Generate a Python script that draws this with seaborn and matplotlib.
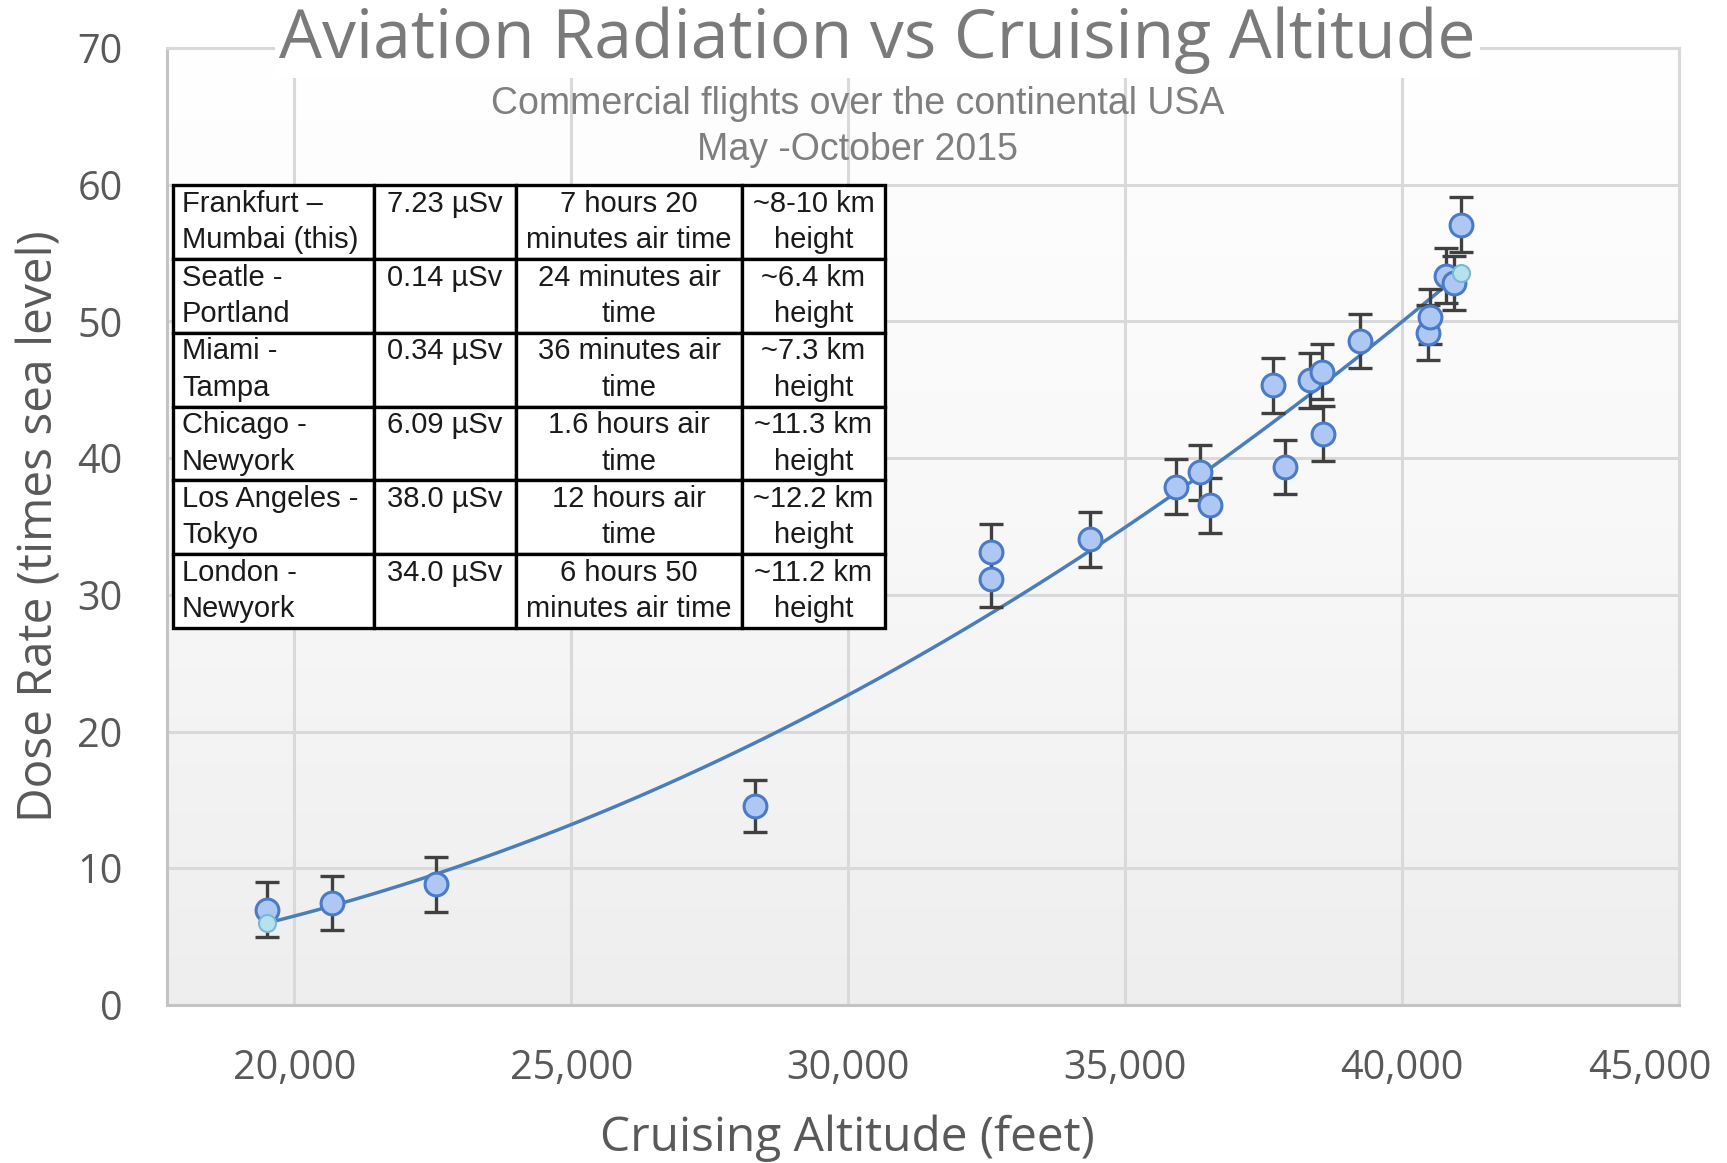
import numpy as np
import pandas as pd
import matplotlib
matplotlib.use("Agg")
import matplotlib.pyplot as plt
import matplotlib.transforms as mtransforms
from matplotlib.colors import LinearSegmentedColormap
from matplotlib.ticker import FuncFormatter
import seaborn as sns

# ---------------- data ----------------
altitude_ft = [19513, 20686, 22556, 28324, 32580, 32580, 34371, 35922, 36360, 36539,
               37672, 37891, 38329, 38547, 38567, 39243, 40476, 40496, 40794, 40934, 41073]
dose_rate = [6.97, 7.45, 8.82, 14.54, 33.16, 31.14, 34.05, 37.91, 38.96, 36.54,
             45.33, 39.36, 45.68, 46.33, 41.78, 48.58, 49.19, 50.36, 53.34, 52.82, 57.07]
dose_err = [2.0, 2.0, 2.0, 1.9, 2.0, 2.0, 2.0, 2.0, 2.0, 2.0,
            2.0, 2.0, 2.0, 2.0, 2.0, 2.0, 2.0, 2.0, 2.0, 2.0, 2.0]

x_ticks = [20000, 25000, 30000, 35000, 40000, 45000]
y_ticks = [0, 10, 20, 30, 40, 50, 60, 70]

title = "Aviation Radiation vs Cruising Altitude"
subtitle_lines = ["Commercial flights over the continental USA", "May -October 2015"]
x_label = "Cruising Altitude (feet)"
y_label = "Dose Rate (times sea level)"

routes = ["Frankfurt –\nMumbai (this)", "Seatle -\nPortland", "Miami -\nTampa",
          "Chicago -\nNewyork", "Los Angeles -\nTokyo", "London -\nNewyork"]
route_doses = ["7.23 µSv", "0.14 µSv", "0.34 µSv", "6.09 µSv", "38.0 µSv", "34.0 µSv"]
air_times = ["7 hours 20\nminutes air time", "24 minutes air\ntime", "36 minutes air\ntime",
             "1.6 hours air\ntime", "12 hours air\ntime", "6 hours 50\nminutes air time"]
heights = ["~8-10 km\nheight", "~6.4 km\nheight", "~7.3 km\nheight",
           "~11.3 km\nheight", "~12.2 km\nheight", "~11.2 km\nheight"]

df = pd.DataFrame({"alt": altitude_ft, "dose": dose_rate, "err": dose_err})

# ---------------- style ----------------
sns.set_style("white")
plt.rcParams["font.family"] = ["Open Sans", "DejaVu Sans"]

TICK_C = "#595959"
GRID_C = "#d9d9d9"

fig = plt.figure(figsize=(17.27, 11.63), dpi=100)
fig.patch.set_facecolor("white")
ax = fig.add_axes([0.0967, 0.1359, 0.8755, 0.8228])

XMIN, XMAX = 17700, 45000
ax.set_xlim(XMIN, XMAX)
ax.set_ylim(0, 70)

# plot-area gradient background
grad = np.linspace(0, 1, 256).reshape(-1, 1)
cmap = LinearSegmentedColormap.from_list("bg", ["#eeeeee", "#f8f8f8", "#ffffff"])
ax.imshow(grad, extent=[XMIN, XMAX, 0, 70], origin="lower", aspect="auto",
          cmap=cmap, zorder=0, interpolation="bilinear")

ax.set_axisbelow(True)
ax.grid(True, color=GRID_C, linewidth=2.2, zorder=0.5)

for side in ["left", "bottom"]:
    ax.spines[side].set_color("#c4c4c4")
    ax.spines[side].set_linewidth(2.2)
for side in ["top", "right"]:
    ax.spines[side].set_color(GRID_C)
    ax.spines[side].set_linewidth(2.2)

# quadratic trendline via seaborn
sns.regplot(data=df, x="alt", y="dose", order=2, ci=None, scatter=False, truncate=True,
            color="#4a7ebb", line_kws={"linewidth": 2.5, "zorder": 2}, ax=ax)

# trend end markers (fitted values at the data extremes)
coef = np.polyfit(df["alt"], df["dose"], 2)
ends_x = np.array([df["alt"].min(), df["alt"].max()])
ends_y = np.polyval(coef, ends_x)

# error bars
ax.errorbar(df["alt"], df["dose"], yerr=df["err"], fmt="none", ecolor="#404040",
            elinewidth=2.4, capsize=8.5, capthick=2.4, zorder=3)

sns.scatterplot(data=df, x="alt", y="dose", s=270, color="#aec7f3",
                edgecolor="#4a7bc8", linewidth=2.2, zorder=4, ax=ax, legend=False)
ax.scatter(ends_x, ends_y, s=150, color="#b6e2ee", edgecolor="#78b9d3",
           linewidth=1.5, zorder=5)

# ticks
ax.set_xticks(x_ticks)
ax.set_yticks(y_ticks)
ax.xaxis.set_major_formatter(FuncFormatter(lambda v, p: f"{int(v):,}"))
ax.tick_params(axis="x", length=0, pad=31, labelsize=28.5, labelcolor=TICK_C)
ax.tick_params(axis="y", length=0, pad=32, labelsize=28.5, labelcolor=TICK_C)
last = ax.get_xticklabels()[-1]
last.set_horizontalalignment("right")
last.set_transform(last.get_transform() +
                   mtransforms.ScaledTranslation(0.33, 0, fig.dpi_scale_trans))

# axis labels
ax.set_xlabel(x_label, fontsize=34.5, color=TICK_C)
ax.set_ylabel(y_label, fontsize=34.5, color=TICK_C)
ax.xaxis.set_label_coords(0.450, -0.1395)
ax.xaxis.label.set_verticalalignment("center")
ax.yaxis.set_label_coords(-0.0842, 0.5005)
ax.yaxis.label.set_verticalalignment("center")

# title breaking the top border
ax.text(0.470, 1.0085, title, transform=ax.transAxes, ha="center", va="center",
        fontsize=49, color="#7a7a7a", zorder=10, clip_on=False,
        bbox=dict(facecolor="white", edgecolor="none", pad=3))
sub_y = [0.9411, 0.8935]
for line, yy in zip(subtitle_lines, sub_y):
    ax.text(0.457, yy, line, transform=ax.transAxes, ha="center", va="center",
            fontsize=27, color="#7f7f7f", family=["Liberation Sans", "DejaVu Sans"],
            zorder=6)

# data table
cell_text = [[r, d + "\n", t, h] for r, d, t, h in zip(routes, route_doses, air_times, heights)]
tbl = ax.table(cellText=cell_text, colWidths=[0.282, 0.2, 0.317, 0.201],
               bbox=[0.004, 0.3939, 0.4709, 0.4629], cellLoc="center", zorder=8)
tbl.auto_set_font_size(False)
tbl.set_fontsize(21)
for (r, c), cell in tbl.get_celld().items():
    cell.set_edgecolor("black")
    cell.set_linewidth(2.4)
    cell.set_facecolor("white")
    txt = cell.get_text()
    txt.set_fontfamily(["Liberation Sans", "DejaVu Sans"])
    txt.set_color("#1a1a1a")
    txt.set_linespacing(1.38)
    if c == 0:
        cell.PAD = 0.045
        txt.set_horizontalalignment("left")

fig.savefig("out.png", dpi=100, facecolor="white")
